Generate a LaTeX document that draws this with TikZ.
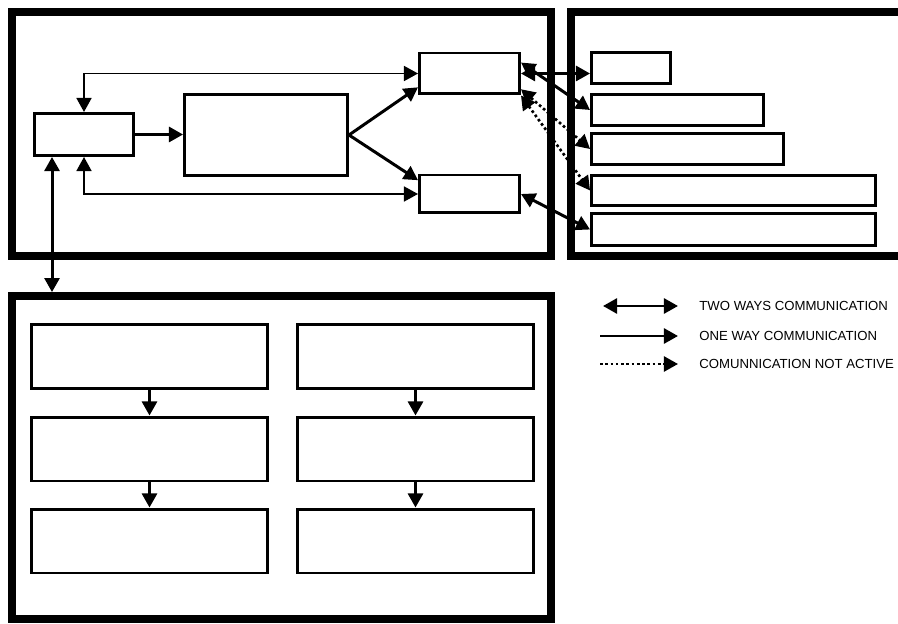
\documentclass[tikz,border=0pt]{standalone}
\usepackage{fontspec}
\setmainfont{Liberation Sans}
\usetikzlibrary{arrows.meta, calc}

\begin{document}
\begin{tikzpicture}[
    x=0.02cm, y=-0.02cm,
    panel/.style={rectangle, draw, line width=4.5pt, inner sep=0pt},
    box/.style={rectangle, draw, line width=1.7pt, inner sep=0pt,
                minimum width=2cm, minimum height=0.82cm},
    wide/.style={box, minimum width=4.72cm, minimum height=1.28cm},
    bar/.style={box, minimum height=0.62cm},
    arr/.style={-{Triangle[length=8pt, width=8.5pt]}, line width=1.7pt},
    both/.style={{Triangle[length=8pt, width=8.5pt]}-{Triangle[length=8pt, width=8.5pt]}, line width=1.7pt},
    fb/.style={both, line width=1.1pt},
    idle/.style={both, line width=1.5pt, dash pattern=on 1.5pt off 1.5pt},
    key/.style={anchor=west, inner sep=0pt, font=\fontsize{7.5}{9}\selectfont}
]
\useasboundingbox (0,0) rectangle (898,624);
\clip (0,0) rectangle (898,624);

\node[panel, minimum width=10.78cm, minimum height=4.88cm] (host) at (281.5,134) {};
\node[panel, minimum width=6.98cm, minimum height=4.88cm] (side) at (745.5,134) {};
\node[panel, minimum width=10.78cm, minimum height=6.46cm] (unit) at (281.5,457.5) {};

\node[box, minimum height=0.84cm] (ctrl) at (84,134.5) {};
\node[box, minimum width=3.26cm, minimum height=1.62cm] (proc) at (266,135) {};
\node[box] (outa) at (469.5,73.5) {};
\node[box, minimum height=0.76cm] (outb) at (469.5,194) {};

\node[bar, minimum width=1.58cm] (sa) at (631,68) {};
\node[bar, minimum width=3.44cm] (sb) at (677.5,110) {};
\node[bar, minimum width=3.84cm] (sc) at (687.5,149) {};
\node[bar, minimum width=5.68cm, minimum height=0.6cm] (sd) at (733.5,190.5) {};
\node[bar, minimum width=5.68cm, minimum height=0.64cm] (se) at (733.5,229.5) {};

\foreach \col/\x in {a/149.5, b/415.5}
  \foreach \row/\y in {1/356.5, 2/449, 3/541}
    \node[wide] (\col\row) at (\x,\y) {};
\foreach \col in {a,b}
  \foreach \i/\j in {1/2, 2/3}
    \draw[arr] (\col\i) -- (\col\j);

\draw[arr] (ctrl.east) -- (ctrl.east -| proc.west);
\draw[arr] (proc.east) -- (outa.195);
\draw[arr] (proc.east) -- (outb.165);
\draw[fb] (outa.west) -| (ctrl.north);
\draw[fb] (outb.west) -| (ctrl.south);
\draw[both] ([xshift=-0.64cm]ctrl.south) -- ([xshift=-0.64cm]ctrl.south |- unit.north);

\draw[both] (outa.east) -- (outa.east -| sa.west);
\draw[both] (outa.12) -- (sb.west);
\draw[idle] (outa.-17) -- (sc.west);
\draw[idle] (outa.south east) -- (sd.west);
\draw[both] (outb.east) -- (se.west);

\coordinate (ka1) at (603,306);
\coordinate (ka2) at (678,306);
\coordinate (kb1) at (600,336);
\coordinate (kb2) at (678,336);
\coordinate (kc1) at (600,364);
\coordinate (kc2) at (678,364);
\draw[both] (ka1) -- (ka2);
\draw[arr] (kb1) -- (kb2);
\draw[idle, {-Triangle[length=8pt, width=8.5pt]}] (kc1) -- (kc2);
\node[key] (ta) at (699,306) {TWO WAYS COMMUNICATION};
\node[key] (tb) at (699,336) {ONE WAY COMMUNICATION};
\node[key] (tc) at (699,364) {COMUNNICATION NOT ACTIVE};
\end{tikzpicture}
\end{document}
